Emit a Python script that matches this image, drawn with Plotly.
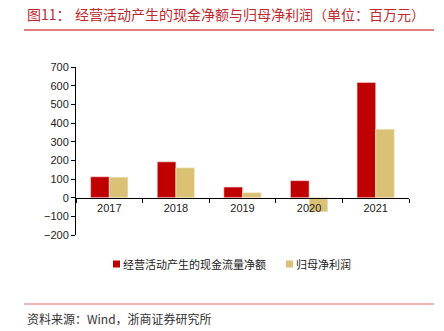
import plotly.graph_objects as go

years = ["2017", "2018", "2019", "2020", "2021"]
cash_flow = [112, 192, 57, 91, 617]
net_profit = [110, 160, 27, -76, 367]
series_names = ["经营活动产生的现金流量净额", "归母净利润"]
y_ticks = [-200, -100, 0, 100, 200, 300, 400, 500, 600, 700]

RED = "#C00000"
TAN = "#DBC176"
FONT = "Noto Sans CJK SC"
W, H = 444, 331
L, R, T, B = 76, 35, 67, 96

fig = go.Figure()
fig.add_bar(x=years, y=cash_flow, name=series_names[0], showlegend=False,
            marker=dict(color=RED, line=dict(color="#F4D7D7", width=0.6)))
fig.add_bar(x=years, y=net_profit, name=series_names[1], showlegend=False,
            marker=dict(color=TAN, line=dict(color="#F7EFD9", width=0.6)))

ymin, ymax = -200, 700
fig.update_layout(
    width=W, height=H, autosize=False,
    margin=dict(l=L, r=R, t=T, b=B, pad=0),
    paper_bgcolor="white", plot_bgcolor="white",
    barmode="group", bargap=0.44, bargroupgap=0,
    font=dict(family="Liberation Sans, Arial", size=11, color="#222"),
    showlegend=False,
    xaxis=dict(type="category", anchor="free", position=(0 - ymin) / (ymax - ymin),
               showline=True, linecolor="#000", linewidth=1,
               ticks="outside", ticklen=4, tickcolor="#000", tickson="boundaries",
               showgrid=False, zeroline=False,
               tickfont=dict(family="Liberation Sans, Arial", size=11, color="#222")),
    yaxis=dict(range=[ymin, ymax], tickvals=y_ticks, showline=True, linecolor="#000", linewidth=1,
               ticks="outside", ticklen=4, tickcolor="#000", showgrid=False, zeroline=False,
               tickfont=dict(family="Liberation Sans, Arial", size=11, color="#222")),
)


def py(p):
    return (H - B - p) / (H - T - B)


def px(p):
    return (p - L) / (W - L - R)


# title
fig.add_annotation(xref="paper", yref="paper", x=px(25), y=py(14),
                   text="图11：", showarrow=False, xanchor="left", yanchor="middle",
                   font=dict(family=FONT, size=14, color="#C0282D"))
fig.add_annotation(xref="paper", yref="paper", x=px(73), y=py(14),
                   text="经营活动产生的现金净额与归母净利润（单位：百万元）", showarrow=False,
                   xanchor="left", yanchor="middle",
                   font=dict(family=FONT, size=14, color="#C0282D"))
# source
fig.add_annotation(xref="paper", yref="paper", x=px(25), y=py(318),
                   text="资料来源：Wind，浙商证券研究所", showarrow=False, xanchor="left", yanchor="middle",
                   font=dict(family=FONT, size=12, color="#333"))

# legend (small squares + labels)
legend_items = [(series_names[0], RED, 113), (series_names[1], TAN, 286)]
for name, col, x0 in legend_items:
    fig.add_shape(type="rect", xref="paper", yref="paper", x0=px(x0), x1=px(x0 + 7),
                  y0=py(260.5), y1=py(267.5), fillcolor=col, line=dict(width=0))
    fig.add_annotation(xref="paper", yref="paper", x=px(x0 + 8), y=py(264), text=name,
                       showarrow=False, xanchor="left", yanchor="middle",
                       font=dict(family=FONT, size=11, color="#222"))

fig.add_shape(type="line", xref="paper", yref="paper", x0=px(24), x1=px(434), y0=py(30), y1=py(30),
              line=dict(color=RED, width=1.2))
fig.add_shape(type="line", xref="paper", yref="paper", x0=px(24), x1=px(434), y0=py(304), y1=py(304),
              line=dict(color="#E57373", width=1.2))

fig.write_html("out.html")
